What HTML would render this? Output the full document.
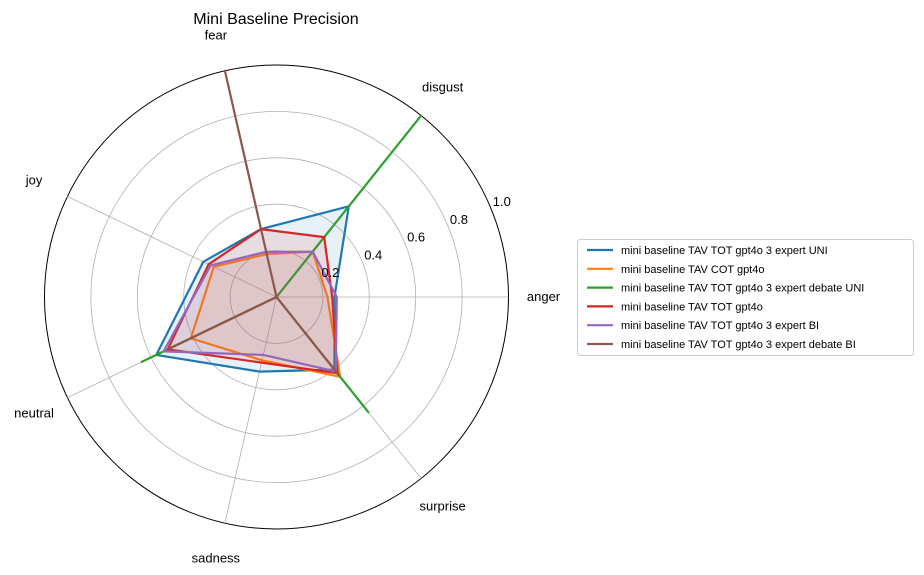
<!DOCTYPE html>
<html><head><meta charset="utf-8"><style>
body{margin:0;background:#fff;}
svg{display:block;font-family:"Liberation Sans","DejaVu Sans",sans-serif;}
</style></head><body>
<svg id="c" width="924" height="575" viewBox="0 0 924 575"></svg>
<script>
const categories=["anger","disgust","fear","joy","neutral","sadness","surprise"];
const seriesNames=["mini baseline TAV TOT gpt4o 3 expert UNI","mini baseline TAV COT gpt4o","mini baseline TAV TOT gpt4o 3 expert debate UNI","mini baseline TAV TOT gpt4o","mini baseline TAV TOT gpt4o 3 expert BI","mini baseline TAV TOT gpt4o 3 expert debate BI"];
const uniValues=[0.25,0.50,0.30,0.35,0.575,0.33,0.40];
const cotValues=[0.22,0.25,0.19,0.30,0.41,0.28,0.44];
const debateUniValues=[0,1.0,0,0,0.645,0,0.635];
const totValues=[0.24,0.33,0.30,0.325,0.52,0.29,0.42];
const biValues=[0.26,0.25,0.20,0.315,0.54,0.256,0.41];
const debateBiValues=[0,0,1.0,0,0.51,0,0.43];
const radialTicks=[0.2,0.4,0.6,0.8,1.0];
const tickLabels=["0.2","0.4","0.6","0.8","1.0"];
const colors=["#1f77b4","#ff7f0e","#2ca02c","#d62728","#9467bd","#8c564b"];
const allValues=[uniValues,cotValues,debateUniValues,totValues,biValues,debateBiValues];
const cx=276.5,cy=297,R=232,NS="http://www.w3.org/2000/svg";
const svg=document.getElementById('c');
function ang(i){return i*2*Math.PI/categories.length;}
function rr(v){return v*R;}
function px(i,v){return cx+rr(v)*Math.cos(ang(i));}
function py(i,v){return cy-rr(v)*Math.sin(ang(i));}
function mk(t,a){const e=document.createElementNS(NS,t);for(const k in a)e.setAttribute(k,a[k]);svg.appendChild(e);return e;}
radialTicks.forEach((t,k)=>{
 const c=mk('circle',{cx:cx,cy:cy,r:rr(t),fill:'none',stroke:k==radialTicks.length-1?'#000':'#b0b0b0','stroke-width':k==radialTicks.length-1?1:0.8});
 
 
});
categories.forEach((c,i)=>{
 const l=mk('line',{x1:cx,y1:cy,x2:px(i,1),y2:py(i,1),stroke:'#b0b0b0','stroke-width':0.8});
 
 
 const lx=cx+(R+36)*Math.cos(ang(i)),ly=cy-(R+36)*Math.sin(ang(i));
 const t=mk('text',{x:lx-1,y:ly+4,'text-anchor':'middle','font-size':13,fill:'#000'});
 t.textContent=c;
 
 
});
allValues.forEach((vals,s)=>{
 const pts=vals.map((v,i)=>px(i,v).toFixed(1)+','+py(i,v).toFixed(1)).join(' ');
 const f=mk('polygon',{points:pts,fill:colors[s],'fill-opacity':0.1,stroke:'none'});
 
 
 const p=mk('polygon',{points:pts,fill:'none',stroke:colors[s],'stroke-width':2.2,'stroke-linejoin':'round'});
 
 
});
const ta=22.5*Math.PI/180;
radialTicks.forEach((t,k)=>{
 const e=mk('text',{x:cx+rr(t)*Math.cos(ta)+11,y:cy-rr(t)*Math.sin(ta)-2,'text-anchor':'middle','font-size':13,fill:'#000'});
 e.textContent=tickLabels[k];
 
 
});
const title=mk('text',{x:276,y:24,'text-anchor':'middle','font-size':16,fill:'#000'});
title.textContent="Mini Baseline Precision";


const lb=mk('rect',{x:577.5,y:239.5,width:336,height:116,rx:3,fill:'#fff',stroke:'#ccc'});


seriesNames.forEach((n,s)=>{
 const y=250+s*18.8;
 const l=mk('line',{x1:587,y1:y,x2:613,y2:y,stroke:colors[s],'stroke-width':2.2});
 
 
 const t=mk('text',{x:621,y:y+4,'font-size':11,fill:'#000'});
 t.textContent=n;
 
 
});
</script>
</body></html>
